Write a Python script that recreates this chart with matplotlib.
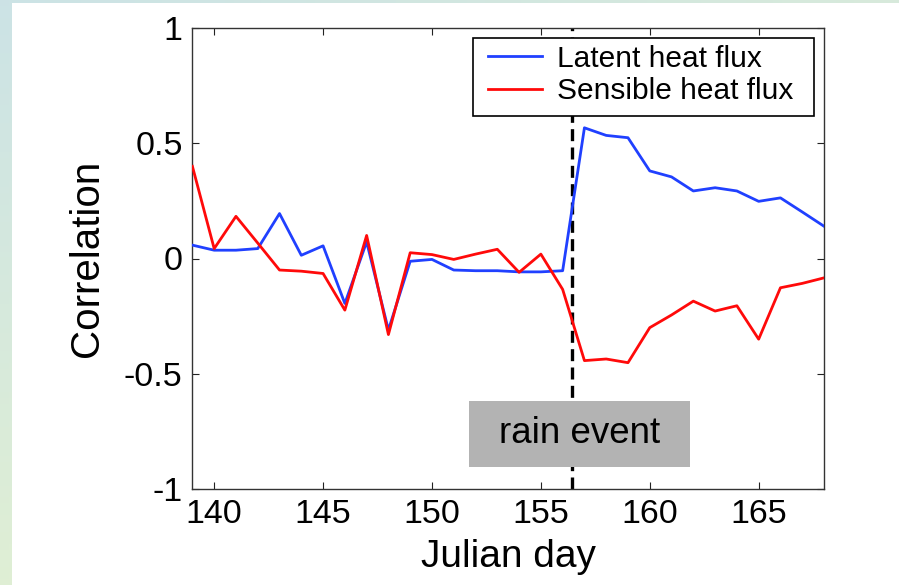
import numpy as np
import matplotlib
matplotlib.use("Agg")
import matplotlib.pyplot as plt
from matplotlib.patches import Rectangle

days = list(range(139, 169))
latent = [0.058, 0.036, 0.036, 0.043, 0.195, 0.014, 0.055, -0.195, 0.072, -0.31,
          -0.012, -0.004, -0.05, -0.053, -0.053, -0.058, -0.058, -0.053, 0.567, 0.534,
          0.524, 0.38, 0.354, 0.293, 0.307, 0.293, 0.248, 0.263, 0.202, 0.14]
sensible = [0.40, 0.043, 0.183, 0.067, -0.05, -0.055, -0.065, -0.224, 0.10, -0.33,
            0.025, 0.017, -0.004, 0.019, 0.04, -0.06, 0.019, -0.134, -0.443, -0.436,
            -0.452, -0.30, -0.245, -0.185, -0.228, -0.205, -0.35, -0.127, -0.108, -0.084]
rain_day = 156.45
xticks = [140, 145, 150, 155, 160, 165]
yticks = [-1, -0.5, 0, 0.5, 1]
ytick_labels = ["-1", "-0.5", "0", "0.5", "1"]

plt.rcParams['font.family'] = ['Liberation Sans', 'DejaVu Sans']

W, H = 899, 585
fig = plt.figure(figsize=(W / 100, H / 100), dpi=100)

# background gradient with white panel
bg = fig.add_axes([0, 0, 1, 1], zorder=-10)
bg.set_axis_off()
yy, xx = np.mgrid[0:1:100j, 0:1:100j]
t = np.clip((xx * 0.6 + yy * 1.0) / 1.2, 0, 1)
c0 = np.array([0.80, 0.89, 0.90])
c1 = np.array([0.89, 0.945, 0.82])
img = c0[None, None, :] * (1 - t[..., None]) + c1[None, None, :] * t[..., None]
bg.imshow(img, extent=[0, 1, 1, 0], aspect='auto')
bg.set_xlim(0, 1)
bg.set_ylim(1, 0)
bg.add_patch(Rectangle((12 / W, 3 / H), 1, 1, facecolor='white', edgecolor='none'))

ax = fig.add_axes([192.4 / W, 1 - 489 / H, (824 - 192.4) / W, (489 - 28) / H])
ax.plot(days, latent, color='#2040ff', lw=2.0, label='Latent heat flux', zorder=3)
ax.plot(days, sensible, color='#ff0a0a', lw=2.0, label='Sensible heat flux', zorder=3)
ax.axvline(rain_day, color='black', lw=2.4, linestyle=(0, (3.6, 1.9)), zorder=2)

ax.set_xlim(139, 168)
ax.set_ylim(-1, 1)
ax.set_xticks(xticks)
ax.set_yticks(yticks)
ax.set_yticklabels(ytick_labels)
ax.tick_params(direction='in', length=5, width=0.8, top=True, right=True,
               labelsize=24.5, pad=7, color='#222222')
for s in ax.spines.values():
    s.set_linewidth(1.0)
    s.set_color('#333333')

ax.set_xlabel('Julian day', fontsize=28, labelpad=7)
ax.set_ylabel('Correlation', fontsize=29, labelpad=13)

# rain event box
ax.add_patch(Rectangle((151.69, -0.903), 161.84 - 151.69, 0.285,
                       facecolor='#b3b3b3', edgecolor='none', zorder=4))
ax.text(156.76, -0.76, 'rain event', fontsize=26.5, ha='center', va='center', zorder=5)

# legend frame (drawn separately so the padding matches)
ax.add_patch(Rectangle((0.444, 0.809), 0.984 - 0.444, 0.978 - 0.809,
                       transform=ax.transAxes, facecolor='white', edgecolor='black',
                       lw=1.2, zorder=6))
leg = ax.legend(loc='upper left', bbox_to_anchor=(0.468, 0.964), borderaxespad=0,
                fontsize=21.5, frameon=False,
                handlelength=1.8, handletextpad=0.5, borderpad=0.0, labelspacing=0.15)
leg.set_zorder(7)

fig.savefig('out.png', dpi=100)
